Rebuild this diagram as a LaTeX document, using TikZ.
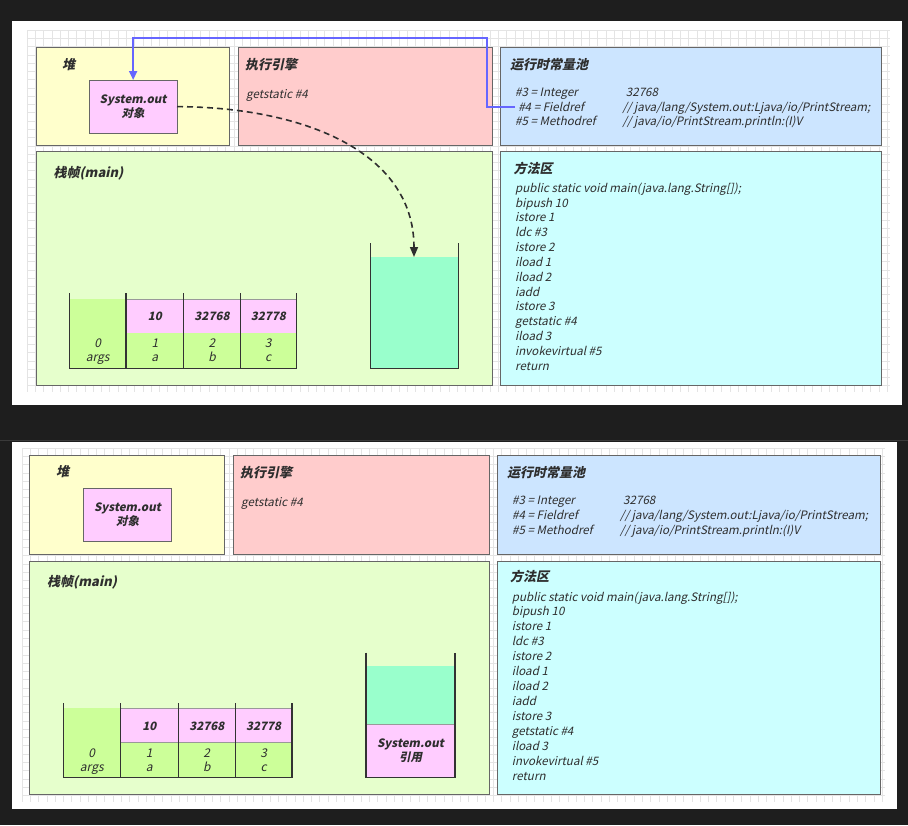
\documentclass[tikz,border=0pt]{standalone}
\usepackage{fontspec}
\setmainfont{Noto Sans CJK SC}
\newfontfamily\slfont{Noto Sans CJK SC}[FakeSlant=0.21]
\usetikzlibrary{arrows.meta}
\definecolor{bgc}{HTML}{1E1E1E}
\definecolor{sepc}{HTML}{3A3A3A}
\definecolor{gridc}{HTML}{E4E4E4}
\definecolor{bordc}{HTML}{666666}
\definecolor{textc}{HTML}{2E2E2E}
\definecolor{heapc}{HTML}{FFFFCC}
\definecolor{engc}{HTML}{FFCCCC}
\definecolor{poolc}{HTML}{CCE5FF}
\definecolor{framec}{HTML}{E6FFCC}
\definecolor{methc}{HTML}{CCFFFF}
\definecolor{pinkc}{HTML}{FFCCFF}
\definecolor{greenc}{HTML}{CCFF99}
\definecolor{cyanc}{HTML}{99FFCC}
\definecolor{barc}{HTML}{333333}
\definecolor{cellbc}{HTML}{999999}
\definecolor{bluec}{HTML}{6666FF}
\tikzset{
  box/.style={draw=bordc, line width=0.9pt, anchor=north west, inner sep=0pt, outer sep=0pt},
  objbox/.style={box, fill=pinkc, align=center, text=textc, font=\fontsize{11.5}{14.3}\selectfont\slfont\bfseries},
  txt/.style={anchor=base west, inner sep=0pt, text=textc, font=\fontsize{11.6}{14}\selectfont\slfont},
  ttl/.style={anchor=base west, inner sep=0pt, text=textc, font=\fontsize{13}{15}\selectfont\slfont\bfseries},
  val/.style={anchor=base, inner sep=0pt, text=textc, font=\fontsize{11.5}{14}\selectfont\slfont\bfseries},
  idx/.style={anchor=base, inner sep=0pt, text=textc, font=\fontsize{12}{14}\selectfont\slfont},
  refbox/.style={anchor=center, inner sep=0pt, align=center, text=textc, font=\fontsize{11.5}{14.3}\selectfont\slfont\bfseries},
  bar/.style={draw=barc, line width=1.5pt},
  cellb/.style={draw=cellbc, line width=0.7pt},
  bluearrow/.style={draw=bluec, line width=1.8pt, -{Triangle[length=9pt,width=8pt]}},
  dasharrow/.style={draw=textc, line width=1.6pt, dash pattern=on 6pt off 4pt, -{Triangle[length=10pt,width=8pt]}}
}
\begin{document}
\begin{tikzpicture}[x=1pt,y=-1pt]
\useasboundingbox (0,0) rectangle (908,825);
\fill[bgc] (0,0) rectangle (908,825);
\fill[white] (12,21) rectangle (902,405);
\fill[white] (12,442) rectangle (897,809);
\draw[sepc, line width=1pt] (0,440) -- (908,440);
% grids
\foreach \i in {0,...,104} \draw[gridc, line width=0.5pt] ({27+\i*8.27},30) -- ({27+\i*8.27},392);
\foreach \j in {0,...,43} \draw[gridc, line width=0.5pt] (27,{30+\j*8.27}) -- (890,{30+\j*8.27});
\foreach \i in {0,...,104} \draw[gridc, line width=0.5pt] ({22+\i*8.27},448) -- ({22+\i*8.27},802);
\foreach \j in {0,...,42} \draw[gridc, line width=0.5pt] (22,{448+\j*8.27}) -- (885,{448+\j*8.27});

% ================= TOP PANEL =================
\node[box, fill=heapc, minimum width=193.7pt, minimum height=98pt] (heapA) at (36,47.3) {};
\node[box, fill=engc, minimum width=254.4pt, minimum height=98pt] (engA) at (238.3,47.3) {};
\node[box, fill=poolc, minimum width=381pt, minimum height=98pt] (poolA) at (500.7,47.3) {};
\node[box, fill=framec, minimum width=456.7pt, minimum height=233.3pt] (frameA) at (36,151.7) {};
\node[box, fill=methc, minimum width=381pt, minimum height=233.3pt] (methA) at (500.7,151.7) {};
\node[objbox, minimum width=87.7pt, minimum height=53.3pt] (sysA) at (89.3,80) {System.out\\对象};

\node[ttl] (heapAt) at (62,69) {堆};
\node[ttl] (engAt) at (245,69) {执行引擎};
\node[txt] (engAl) at (246,98) {getstatic \#4};
\node[ttl] (poolAt) at (510,69) {运行时常量池};
\node[txt] (cA3) at (515,96) {\#3 = Integer};
\node[txt, outer xsep=3.3pt] (cA4) at (515,111.3) {\#4 = Fieldref};
\node[txt] (cA5) at (515,125.7) {\#5 = Methodref};
\node[txt] (dA3) at (625.7,96) {32768};
\node[txt] (dA4) at (622.3,111.3) {// java/lang/System.out:Ljava/io/PrintStream;};
\node[txt] (dA5) at (622.3,125.7) {// java/io/PrintStream.println:(I)V};
\node[ttl] (frameAt) at (53.3,177.7) {栈帧(main)};
\node[ttl] (methAt) at (513.3,173.3) {方法区};
\foreach \t [count=\i from 0] in {{public static void main(java.lang.String[]);},{bipush 10},{istore 1},{ldc \#3},{istore 2},{iload 1},{iload 2},{iadd},{istore 3},{getstatic \#4},{iload 3},{invokevirtual \#5},{return}}
  \node[txt] (mA\i) at (515,{192.3+\i*14.83}) {\t};

% local variable table (top)
\fill[greenc] (69.3,299) rectangle (126,368.3);
\filldraw[fill=pinkc, cellb] (126,299) rectangle (296.3,333);
\fill[greenc] (126,333.4) rectangle (296.3,368.3);
\draw[bar] (69.3,293.3) -- (69.3,368.3) -- (296.3,368.3) -- (296.3,293.3);
\foreach \x in {126,183.7,240.3} \draw[bar] (\x,293.3) -- (\x,368.3);
\node[val] (vA1) at (154.85,320.7) {10};
\node[val] (vA2) at (212,320.7) {32768};
\node[val] (vA3) at (268.3,320.7) {32778};
\node[idx] (iA0) at (97.65,347) {0};
\node[idx] (iA1) at (154.85,347) {1};
\node[idx] (iA2) at (212,347) {2};
\node[idx] (iA3) at (268.3,347) {3};
\node[idx] (nA0) at (97.65,361.8) {args};
\node[idx] (nA1) at (154.85,361.8) {a};
\node[idx] (nA2) at (212,361.8) {b};
\node[idx] (nA3) at (268.3,361.8) {c};

% operand stack (top)
\fill[cyanc] (370.3,257) rectangle (458.3,368.3);
\draw[bar] (370.3,243.3) -- (370.3,368.3) -- (458.3,368.3) -- (458.3,243.3);
\coordinate (stackA) at (414,257);

% connectors (top)
\coordinate (bendA) at (486.7,38.3);
\draw[bluearrow] (cA4.west) -| (bendA) -| (sysA.north);
\draw[dasharrow] (sysA.east) .. controls (300,107) and (414,150) .. (stackA);

% ================= BOTTOM PANEL =================
\node[box, fill=heapc, minimum width=194.6pt, minimum height=98.6pt] (heapB) at (29.7,455.7) {};
\node[box, fill=engc, minimum width=256pt, minimum height=98.6pt] (engB) at (233.3,455.7) {};
\node[box, fill=poolc, minimum width=383pt, minimum height=98.6pt] (poolB) at (497.7,455.7) {};
\node[box, fill=framec, minimum width=459.6pt, minimum height=233.3pt] (frameB) at (29.7,561) {};
\node[box, fill=methc, minimum width=383pt, minimum height=233.3pt] (methB) at (497.7,561) {};
\node[objbox, minimum width=88.4pt, minimum height=53.4pt] (sysB) at (83.3,488.3) {System.out\\对象};

\node[ttl] (heapBt) at (56,476.7) {堆};
\node[ttl] (engBt) at (240,477) {执行引擎};
\node[txt] (engBl) at (241,506) {getstatic \#4};
\node[ttl] (poolBt) at (507,477.7) {运行时常量池};
\node[txt] (cB3) at (512,504) {\#3 = Integer};
\node[txt] (cB4) at (512,519) {\#4 = Fieldref};
\node[txt] (cB5) at (512,534) {\#5 = Methodref};
\node[txt] (dB3) at (623,504) {32768};
\node[txt] (dB4) at (620,519) {// java/lang/System.out:Ljava/io/PrintStream;};
\node[txt] (dB5) at (620,534) {// java/io/PrintStream.println:(I)V};
\node[ttl] (frameBt) at (47,586) {栈帧(main)};
\node[ttl] (methBt) at (510,581.7) {方法区};
\foreach \t [count=\i from 0] in {{public static void main(java.lang.String[]);},{bipush 10},{istore 1},{ldc \#3},{istore 2},{iload 1},{iload 2},{iadd},{istore 3},{getstatic \#4},{iload 3},{invokevirtual \#5},{return}}
  \node[txt] (mB\i) at (511.7,{601+\i*14.92}) {\t};

% local variable table (bottom)
\fill[greenc] (63.3,708.3) rectangle (120.3,777.7);
\filldraw[fill=pinkc, cellb] (120.3,708.3) rectangle (292,742.7);
\fill[greenc] (120.3,743.1) rectangle (292,777.7);
\draw[bar] (63.3,703.3) -- (63.3,777.7) -- (292,777.7) -- (292,703.3);
\foreach \x in {120.3,178.3,235.3} \draw[bar] (\x,703.3) -- (\x,777.7);
\node[val] (vB1) at (149.3,730.7) {10};
\node[val] (vB2) at (206.8,730.7) {32768};
\node[val] (vB3) at (263.65,730.7) {32778};
\node[idx] (iB0) at (91.8,757) {0};
\node[idx] (iB1) at (149.3,757) {1};
\node[idx] (iB2) at (206.8,757) {2};
\node[idx] (iB3) at (263.65,757) {3};
\node[idx] (nB0) at (91.8,771.2) {args};
\node[idx] (nB1) at (149.3,771.2) {a};
\node[idx] (nB2) at (206.8,771.2) {b};
\node[idx] (nB3) at (263.65,771.2) {c};

% operand stack (bottom)
\fill[cyanc] (366,666) rectangle (455,724.3);
\filldraw[fill=pinkc, cellb] (366,724.3) rectangle (455,777.7);
\draw[bar] (366,652.7) -- (366,777.7) -- (455,777.7) -- (455,652.7);
\node[refbox] (refB) at (410.5,751) {System.out\\引用};
\end{tikzpicture}
\end{document}
